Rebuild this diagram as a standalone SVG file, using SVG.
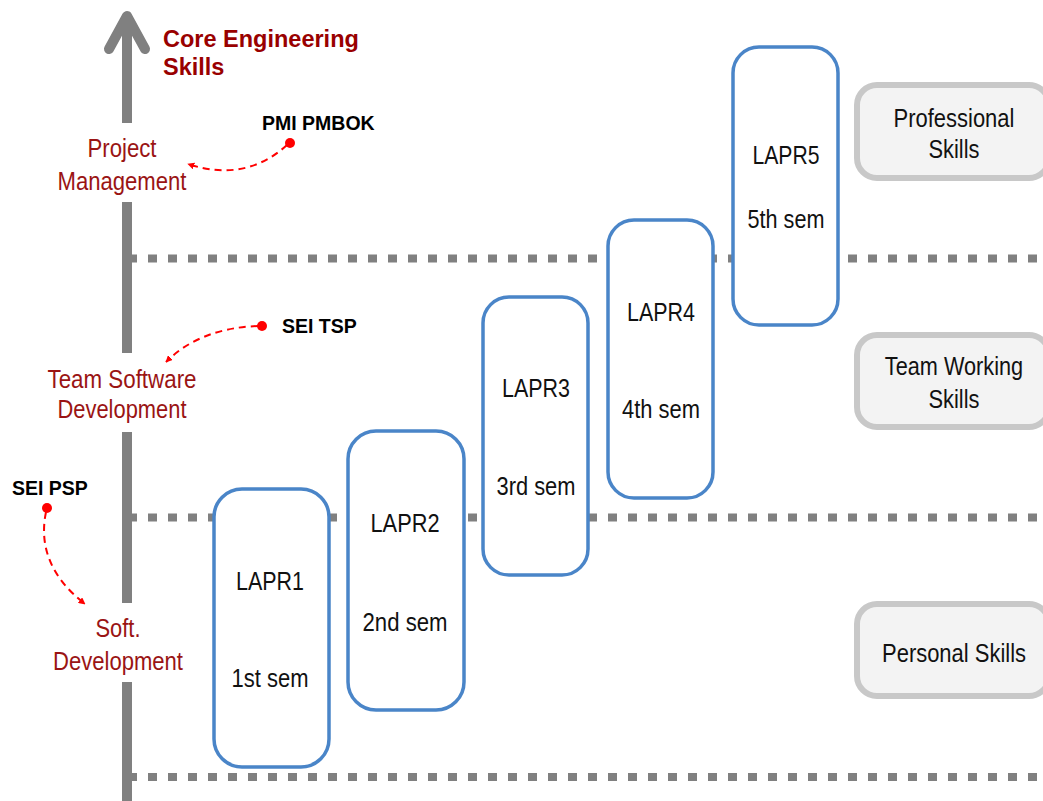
<svg xmlns="http://www.w3.org/2000/svg" width="1043" height="801" viewBox="0 0 1043 801">
<style>
.n{font-family:"Liberation Sans",Arial,sans-serif;font-size:26px;fill:#111;text-anchor:middle}
.r{font-family:"Liberation Sans",Arial,sans-serif;font-size:26px;fill:#9a1414;text-anchor:middle}
.b{font-family:"Liberation Sans",Arial,sans-serif;font-weight:bold;font-size:19.5px;fill:#000}
.h{font-family:"Liberation Sans",Arial,sans-serif;font-weight:bold;font-size:23.5px;fill:#990000}
.lapr{fill:#fff;stroke:#4a85c8;stroke-width:3.5}
.skill{fill:#f3f3f3;stroke:#c8c8c8;stroke-width:6}
.dot{fill:none;stroke:#808080;stroke-width:8;stroke-dasharray:9 11}
.ax{stroke:#808080;stroke-width:10;fill:none}
.cur{fill:none;stroke:#f00;stroke-width:2;stroke-dasharray:7 5}
</style>
<defs>
<marker id="ah" viewBox="0 0 10 10" refX="9" refY="5" markerWidth="7" markerHeight="7" markerUnits="userSpaceOnUse" orient="auto">
<path d="M0,0 L10,5 L0,10 z" fill="#f00"/>
</marker>
</defs>
<rect width="1043" height="801" fill="#fff"/>
<g id="grid">
<line class="dot" x1="128" y1="258.5" x2="1043" y2="258.5"/>
<line class="dot" x1="128" y1="517.5" x2="1043" y2="517.5"/>
<line class="dot" x1="128" y1="777" x2="1043" y2="777"/>
</g>
<g id="axis">
<line class="ax" x1="127" y1="16" x2="127" y2="123"/>
<polyline class="ax" points="109,49 127,16 145,49" stroke-linecap="round" stroke-linejoin="round"/>
<line class="ax" x1="127" y1="202" x2="127" y2="353"/>
<line class="ax" x1="127" y1="432" x2="127" y2="603"/>
<line class="ax" x1="127" y1="682" x2="127" y2="801"/>
</g>
<g id="title"><text class="h" x="163" y="47">Core Engineering</text><text class="h" x="163" y="75">Skills</text></g>
<g id="pm"><text class="r" x="122" y="157" textLength="69" lengthAdjust="spacingAndGlyphs">Project</text><text class="r" x="122" y="190" textLength="129" lengthAdjust="spacingAndGlyphs">Management</text></g>
<g id="tsd"><text class="r" x="122" y="388" textLength="149" lengthAdjust="spacingAndGlyphs">Team Software</text><text class="r" x="122" y="418" textLength="129" lengthAdjust="spacingAndGlyphs">Development</text></g>
<g id="sd"><text class="r" x="118" y="637" textLength="45" lengthAdjust="spacingAndGlyphs">Soft.</text><text class="r" x="118" y="670" textLength="130" lengthAdjust="spacingAndGlyphs">Development</text></g>
<g id="pmbok"><text class="b" x="262" y="130">PMI PMBOK</text><circle cx="290" cy="143" r="5" fill="#f00"/></g>
<g id="tsp"><text class="b" x="282" y="333">SEI TSP</text><circle cx="262" cy="326" r="5" fill="#f00"/></g>
<g id="psp"><text class="b" x="12" y="495">SEI PSP</text><circle cx="47" cy="508" r="5" fill="#f00"/></g>
<g id="connectors">
<path class="cur" d="M287,145 Q245,183 188,164" marker-end="url(#ah)"/>
<path class="cur" d="M258,326 Q200,328 166,362" marker-end="url(#ah)"/>
<path class="cur" d="M46,512 Q35,565 85,604" marker-end="url(#ah)"/>
</g>
<g id="lapr1"><rect class="lapr" x="214" y="489" width="115" height="278" rx="28"/><text class="n" x="270" y="590" textLength="68" lengthAdjust="spacingAndGlyphs">LAPR1</text><text class="n" x="270" y="687" textLength="77" lengthAdjust="spacingAndGlyphs">1st sem</text></g>
<g id="lapr2"><rect class="lapr" x="348" y="431" width="116" height="279" rx="28"/><text class="n" x="405" y="532" textLength="69" lengthAdjust="spacingAndGlyphs">LAPR2</text><text class="n" x="405" y="631" textLength="85" lengthAdjust="spacingAndGlyphs">2nd sem</text></g>
<g id="lapr3"><rect class="lapr" x="483" y="297" width="105" height="278" rx="26"/><text class="n" x="536" y="397" textLength="68" lengthAdjust="spacingAndGlyphs">LAPR3</text><text class="n" x="536" y="495" textLength="79" lengthAdjust="spacingAndGlyphs">3rd sem</text></g>
<g id="lapr4"><rect class="lapr" x="608" y="220" width="105" height="278" rx="26"/><text class="n" x="661" y="321" textLength="68" lengthAdjust="spacingAndGlyphs">LAPR4</text><text class="n" x="661" y="418" textLength="78" lengthAdjust="spacingAndGlyphs">4th sem</text></g>
<g id="lapr5"><rect class="lapr" x="733" y="47" width="105" height="278" rx="26"/><text class="n" x="786" y="164" textLength="67" lengthAdjust="spacingAndGlyphs">LAPR5</text><text class="n" x="786" y="228" textLength="77" lengthAdjust="spacingAndGlyphs">5th sem</text></g>
<g id="prof"><rect class="skill" x="857" y="85" width="192" height="93" rx="20"/><text class="n" transform="translate(954,127) scale(0.845,1)">Professional</text><text class="n" transform="translate(954,158) scale(0.84,1)">Skills</text></g>
<g id="team"><rect class="skill" x="857" y="335" width="192" height="92" rx="20"/><text class="n" transform="translate(954,375) scale(0.835,1)">Team Working</text><text class="n" transform="translate(954,408) scale(0.84,1)">Skills</text></g>
<g id="pers"><rect class="skill" x="857" y="604" width="192" height="92" rx="20"/><text class="n" transform="translate(954,662) scale(0.845,1)">Personal Skills</text></g>
</svg>
